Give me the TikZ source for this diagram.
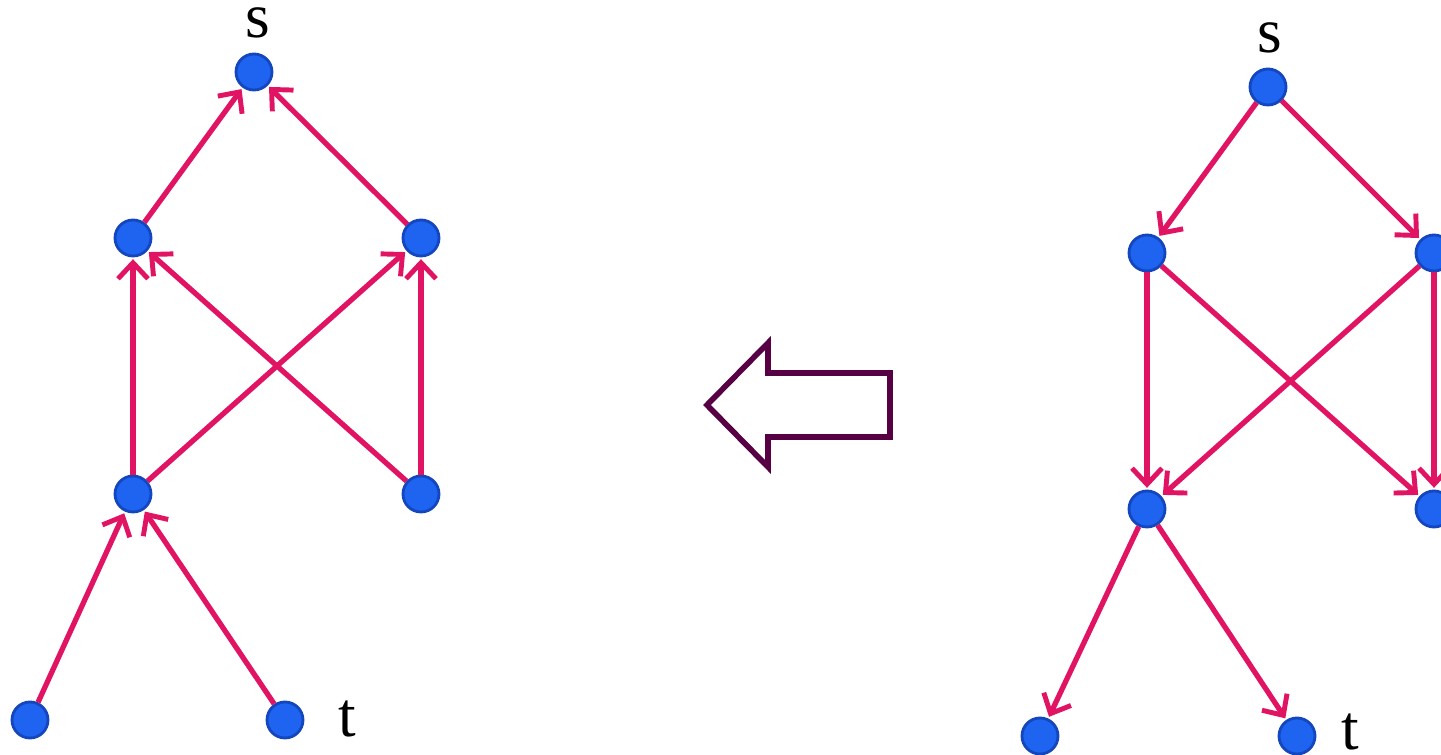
\documentclass[tikz,border=0pt]{standalone}
\usepackage{fontspec}
\setmainfont{Liberation Serif}
\usepackage{tikz}
\usetikzlibrary{arrows.meta,calc,positioning}
\definecolor{nodeblue}{RGB}{30,100,240}
\definecolor{nodeedge}{RGB}{20,70,190}
\definecolor{edgered}{RGB}{225,20,100}
\definecolor{plum}{RGB}{88,0,68}
\tikzset{vtx/.style={circle,draw=nodeedge,line width=0.8pt,fill=nodeblue,minimum size=0.36cm,inner sep=0pt},
  arr/.style={-{Straight Barb[length=1.6mm,width=3mm,line width=1.4pt]},line width=1.5pt,edgered,shorten >=0.5pt},
  lbl/.style={font=\fontsize{18}{22}\selectfont,anchor=base,inner sep=0pt}}

\begin{document}
\begin{tikzpicture}[x=0.01cm,y=-0.01cm]
\useasboundingbox (0,0) rectangle (1441,755);
\clip (0,0) rectangle (1441,755);
% left graph
\node[vtx] (ls) at (254,72) {};
\node[vtx] (la) at (133,238) {};
\node[vtx] (lb) at (421,238) {};
\node[vtx] (lc) at (133,494) {};
\node[vtx] (ld) at (421,494) {};
\node[vtx] (le) at (30,720) {};
\node[vtx] (lt) at (285,720) {};
\node[lbl] (lsl) at (258,38) {s};
\node[lbl] (ltl) at (347,737) {t};
\draw[arr] (la)--(ls);
\draw[arr] (lb)--(ls);
\draw[arr] (lc)--(la);
\draw[arr] (ld)--(la);
\draw[arr] (lc)--(lb);
\draw[arr] (ld)--(lb);
\draw[arr] (le)--(lc);
\draw[arr] (lt)--(lc);
% right graph
\node[vtx] (rs) at (1268,87) {};
\node[vtx] (ra) at (1147,253) {};
\node[vtx] (rb) at (1434,253) {};
\node[vtx] (rc) at (1147,509) {};
\node[vtx] (rd) at (1434,509) {};
\node[vtx] (re) at (1040,736) {};
\node[vtx] (rt) at (1297,736) {};
\node[lbl] (rsl) at (1270,53) {s};
\node[lbl] (rtl) at (1350,750) {t};
\draw[arr] (rs)--(ra);
\draw[arr] (rs)--(rb);
\draw[arr] (ra)--(rc);
\draw[arr] (ra)--(rd);
\draw[arr] (rb)--(rc);
\draw[arr] (rb)--(rd);
\draw[arr] (rc)--(re);
\draw[arr] (rc)--(rt);
% hollow arrow
\draw[plum,line width=1.6pt,line join=miter] (707,405)--(768,343)--(768,373)--(890,373)--(890,437)--(768,437)--(768,467)--cycle;
\end{tikzpicture}
\end{document}
